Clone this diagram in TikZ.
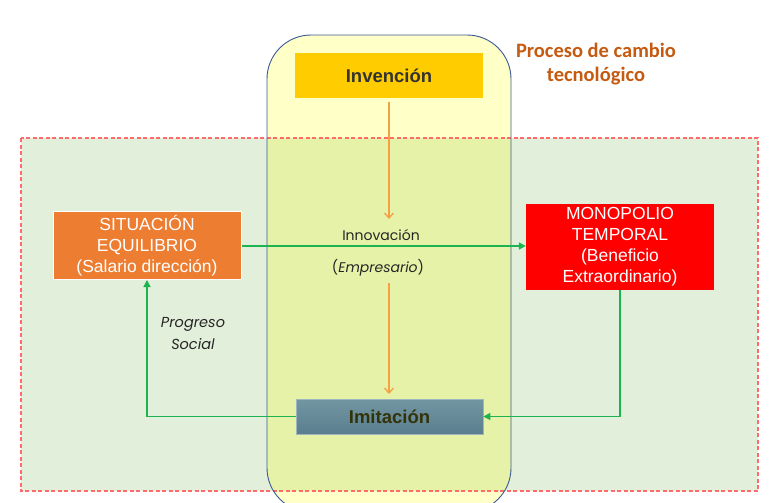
\documentclass[tikz,border=0pt]{standalone}
\usepackage{fontspec}
\setmainfont{Liberation Sans}
\newfontfamily\gothic{Poppins}
\newfontfamily\calib{Carlito}
\usetikzlibrary{arrows.meta}
\definecolor{bggreen}{HTML}{E2EFDA}
\definecolor{bgyellow}{HTML}{FFFFC8}
\definecolor{overlap}{HTML}{E6F2A8}
\definecolor{dashred}{HTML}{FF6B6B}
\definecolor{frameblue}{HTML}{3B5A95}
\definecolor{invyellow}{HTML}{FFCC00}
\definecolor{sitorange}{HTML}{ED7D31}
\definecolor{arrgreen}{HTML}{1DB350}
\definecolor{arrorange}{HTML}{F5A043}
\definecolor{titlebrown}{HTML}{C55A11}
\definecolor{imitop}{HTML}{7396A3}
\definecolor{imibot}{HTML}{5B7E8F}
\definecolor{imitext}{HTML}{33330A}
\tikzset{
  boxtext/.style={font=\fontsize{17.5}{21}\selectfont, text=white, align=center, inner sep=0pt},
  greenline/.style={draw=arrgreen, line width=1.3pt},
  greenarrow/.style={greenline, -{Triangle[length=7pt,width=7pt]}},
  orangearrow/.style={draw=arrorange, line width=1.3pt, -{Straight Barb[length=5pt,width=9pt]}},
  gothtext/.style={font=\gothic\fontsize{14}{22}\selectfont, text=black!85}
}
\begin{document}
\begin{tikzpicture}[x=1pt,y=-1pt]
\useasboundingbox (0,0) rectangle (780,503);
\begin{scope}
\clip (0,0) rectangle (780,503);
% yellow frame fill
\fill[bgyellow, rounded corners=44pt] (267,35) rectangle (511,512);
% green background
\fill[bggreen] (21,138) rectangle (758,491);
\begin{scope}
\clip[rounded corners=44pt] (267,35) rectangle (511,512);
\fill[overlap] (21,138) rectangle (758,491);
\end{scope}
\draw[dashred, line width=1.4pt, dash pattern=on 4pt off 2.5pt] (21,138) rectangle (758,491);
\draw[frameblue, line width=0.9pt, rounded corners=44pt] (267,35) rectangle (511,512);
\end{scope}

% nodes
\node[fill=invyellow, minimum width=188pt, minimum height=45pt, inner sep=0pt,
  font=\bfseries\fontsize{18.5}{21}\selectfont, text=black!80] (inv) at (389,75.5) {Invención};
\node[fill=sitorange, draw=white, line width=1pt, minimum width=188pt, minimum height=68pt, boxtext] (sit) at (147,245.5)
  {SITUACIÓN\\EQUILIBRIO\\(Salario dirección)};
\node[fill=red, minimum width=188pt, minimum height=86pt, boxtext] (mono) at (620,247)
  {MONOPOLIO\\TEMPORAL\\(Beneficio\\Extraordinario)};
\node[top color=imitop, bottom color=imibot, draw=imitop!70!white, line width=0.6pt,
  minimum width=187pt, minimum height=35pt, inner sep=0pt,
  font=\bfseries\fontsize{18.5}{21}\selectfont, text=imitext] (imi) at (389.5,416.5) {Imitación};

% title
\node[font=\calib\bfseries\fontsize{20.5}{24}\selectfont, text=titlebrown, align=center] (title) at (596,64)
  {Proceso de cambio\\tecnológico};

% labels
\node[gothtext] (innov) at (381,235) {Innovación};
\node[gothtext] (empr) at (378,268) {(\textit{Empresario})};
\node[gothtext, align=center, font=\gothic\itshape\fontsize{14.5}{22}\selectfont] (prog) at (193,334) {Progreso\\Social};

% coordinates
\coordinate (o1s) at (389,102);
\coordinate (o1e) at (389,219);
\coordinate (o2s) at (389,283);
\coordinate (o2e) at (389,394);

% connectors
\draw[orangearrow] (o1s) -- (o1e);
\draw[orangearrow] (o2s) -- (o2e);
\draw[greenarrow] (sit.east |- 0,246) -- (mono.west |- 0,246);
\draw[greenarrow] (mono.south) |- (imi.east);
\draw[greenarrow] (imi.west) -| (sit.south);
\end{tikzpicture}
\end{document}
